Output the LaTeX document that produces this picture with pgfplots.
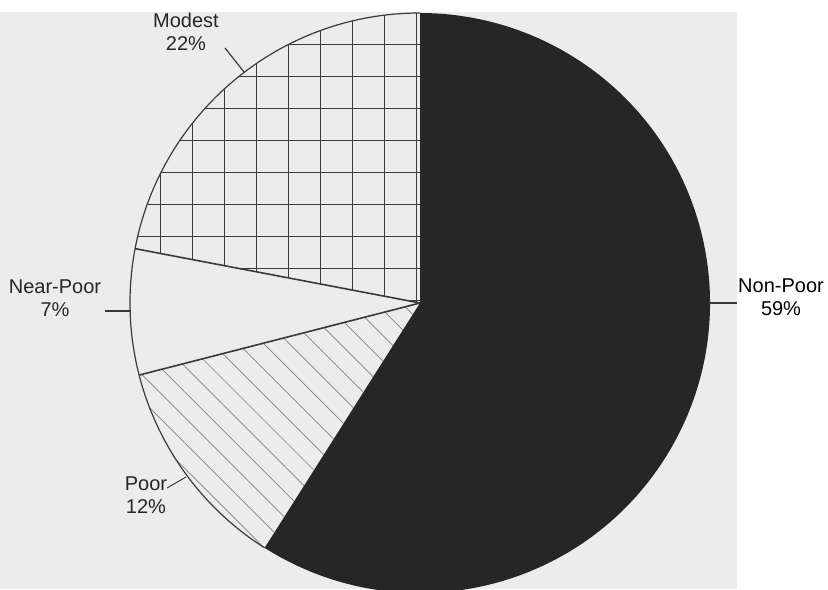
\documentclass[border=0pt]{standalone}
\usepackage{pgfplots}
\pgfplotsset{compat=1.18}
\usepackage{pgfplotstable}
\usetikzlibrary{patterns.meta}
\usepackage{fontspec}
\setmainfont{Liberation Sans}
\definecolor{bg}{HTML}{ECECEC}
\definecolor{dark}{HTML}{262626}
\definecolor{edge}{HTML}{3A3A3A}
\pgfplotstableread{
slice pct
Modest 22
NearPoor 7
Poor 12
NonPoor 59
}\piedata
\begin{document}%
\pgfplotstablegetelem{0}{pct}\of\piedata\let\pA\pgfplotsretval%
\pgfplotstablegetelem{1}{pct}\of\piedata\let\pB\pgfplotsretval%
\pgfplotstablegetelem{2}{pct}\of\piedata\let\pC\pgfplotsretval%
\pgfplotstablegetelem{3}{pct}\of\piedata\let\pD\pgfplotsretval%
\pgfmathsetmacro\aO{90}%
\pgfmathsetmacro\aA{\aO+3.6*\pA}%
\pgfmathsetmacro\aB{\aA+3.6*\pB}%
\pgfmathsetmacro\aC{\aB+3.6*\pC}%
\pgfmathsetmacro\aD{\aC+3.6*\pD}%
\begin{tikzpicture}
\begin{axis}[scale only axis, width=414pt, height=294.5pt,
  xmin=0, xmax=828, ymin=0, ymax=589, hide axis, clip=true]
\coordinate (SW) at (rel axis cs:0,0);
\coordinate (NE) at (rel axis cs:1,1);
\fill[bg] (axis cs:0,0) rectangle (axis cs:737,577);
% Non-Poor
\fill[dark] (axis cs:420,286) -- ++(\aC:145pt) arc[start angle=\aC, end angle=\aD, radius=145pt] -- cycle;
% Modest
\path[pattern={Hatch[angle=0,distance=16pt,line width=0.5pt]}, pattern color=edge]
  (axis cs:420,286) -- ++(\aO:145pt) arc[start angle=\aO, end angle=\aA, radius=145pt] -- cycle;
% Poor
\path[pattern={Lines[angle=-45,distance=9pt,line width=0.35pt]}, pattern color=gray]
  (axis cs:420,286) -- ++(\aB:145pt) arc[start angle=\aB, end angle=\aC, radius=145pt] -- cycle;
% outlines
\draw[edge, line width=0.8pt] (axis cs:420,286) -- ++(\aA:145pt);
\draw[edge, line width=0.8pt] (axis cs:420,286) -- ++(\aB:145pt);
\draw[edge, line width=0.6pt] (axis cs:420,286) ++(\aO:145pt) arc[start angle=\aO, end angle=\aC, radius=145pt];
% labels
\node[align=center, font=\fontsize{10}{11.5}\selectfont, text=black!85] at (axis cs:186,557) {Modest\\22\%};
\draw[edge, line width=0.6pt] (axis cs:225,541) -- (axis cs:244,517);
\node[align=center, font=\fontsize{10}{11.5}\selectfont, text=black!85] at (axis cs:55,291) {Near-Poor\\7\%};
\draw[edge, line width=0.6pt] (axis cs:105,278) -- (axis cs:131,278);
\node[align=center, font=\fontsize{10}{11.5}\selectfont, text=black!85] at (axis cs:146,94) {Poor\\12\%};
\draw[edge, line width=0.5pt] (axis cs:167,101) -- (axis cs:186,112);
\node[align=center, font=\fontsize{10}{11.5}\selectfont] at (axis cs:781,292) {Non-Poor\\59\%};
\draw[edge, line width=0.6pt] (axis cs:709,286) -- (axis cs:737,286);
\end{axis}
\pgfresetboundingbox
\path (SW) rectangle (NE);
\end{tikzpicture}%
\end{document}
